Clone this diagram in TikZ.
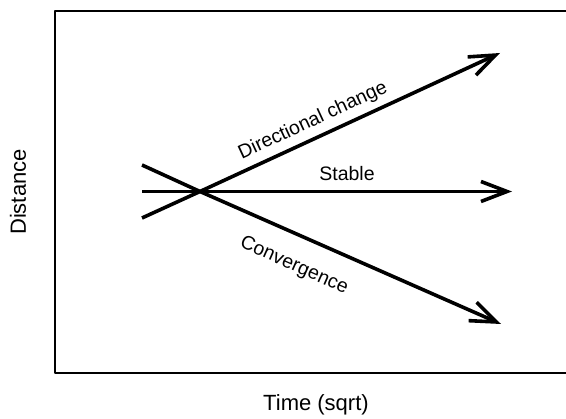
\documentclass[tikz,border=0pt]{standalone}
\usepackage{fontspec}
\setmainfont{Liberation Sans}
\usetikzlibrary{arrows.meta}
\begin{document}
\begin{tikzpicture}[x=1pt, y=-1pt, line join=round, >={Straight Barb[length=26pt, width=20pt]},
  trend/.style={line width=3.6pt, line cap=butt},
  lbl/.style={font=\fontsize{19.5}{22}\selectfont, inner sep=0pt},
  axislbl/.style={font=\fontsize{22}{25}\selectfont, inner sep=0pt}]
\useasboundingbox (0,0) rectangle (566,419);
% frame (right side runs off the page)
\draw[line width=2pt] (566,11) -- (55,11) -- (55,373) -- (566,373);
\node[axislbl, rotate=90] (dist) at (18,192) {Distance};
\node[axislbl] (time) at (316,405) {Time (sqrt)};
% end points of the three trends
\coordinate (cross) at (200,191.5);
\coordinate (ds) at (142,218);
\coordinate (de) at (500,53);
\coordinate (ss) at (142,191.5);
\coordinate (se) at (512,191.5);
\coordinate (cs) at (142,165);
\coordinate (ce) at (501,324);
\draw[trend,->] (ds) -- (cross) -- (de);
\draw[trend,->] (ss) -- (cross) -- (se);
\draw[trend,->] (cs) -- (cross) -- (ce);
\node[lbl, rotate=24.8] (dlbl) at (313,121) {Directional change};
\node[lbl] (slbl) at (347,174) {Stable};
\node[lbl, rotate=-23.9] (clbl) at (294,266) {Convergence};
\end{tikzpicture}
\end{document}
